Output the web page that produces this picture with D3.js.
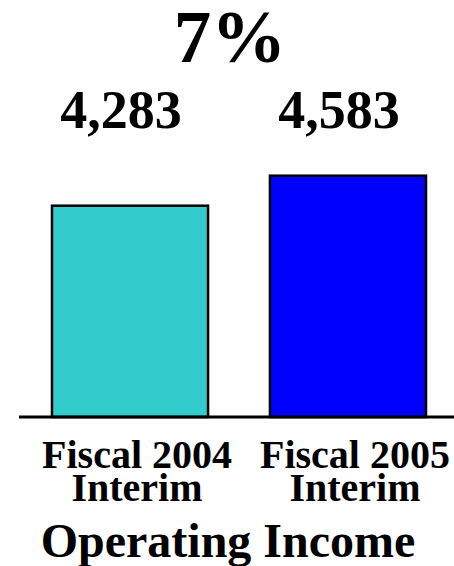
<!DOCTYPE html>
<html><head><meta charset="utf-8"><script src="https://cdn.jsdelivr.net/npm/d3@7"></script>
<style>
svg text, text { font-family: "Liberation Serif", "Tinos", "Times New Roman", serif !important; font-weight: bold !important; }
</style>
</head>
<body style="margin:0"><svg id="s" width="454" height="566"></svg>
<script>
const categories = ["Fiscal 2004 Interim", "Fiscal 2005 Interim"];
const categoryLines = [["Fiscal 2004", "Interim"], ["Fiscal 2005", "Interim"]];
const values = [4283, 4583];
const valueLabels = ["4,283", "4,583"];
const colors = ["#33CCCC", "#0000FF"];
const growthLabel = "7%";
const chartTitle = "Operating Income";

const s = d3.select("#s");
const baseY = 417;
const SERIF = "Liberation Serif";

const x = d3.scaleBand().domain(categories).range([19.3, 458.7]).paddingInner(0.284).paddingOuter(0.15);
const y = d3.scaleLinear().domain([2170, 4600]).range([baseY, 174]);

function serif(sel) {
  sel.attr("font-family", SERIF)
     .attr("font-weight", "bold")
     .attr("text-anchor", "middle")
     .attr("fill", "#000")
     .style("font-family", SERIF, "important")
     .style("font-weight", "bold", "important");
}

// bars
s.selectAll("rect.bar").data(values).join("rect")
  .attr("class", "bar")
  .attr("x", (d, i) => x(categories[i]))
  .attr("width", x.bandwidth())
  .attr("y", d => y(d))
  .attr("height", d => baseY - y(d))
  .attr("fill", (d, i) => colors[i])
  .attr("stroke", "#000")
  .attr("stroke-width", 2.5);

// baseline
s.append("line")
  .attr("x1", 19).attr("x2", 454)
  .attr("y1", baseY).attr("y2", baseY)
  .attr("stroke", "#000").attr("stroke-width", 3);

// value labels
s.selectAll("text.val").data(valueLabels).join("text")
  .attr("class", "val")
  .call(serif)
  .attr("x", (d, i) => x(categories[i]) + x.bandwidth() / 2 - 9)
  .attr("y", 128)
  .attr("font-size", 54)
  .text(d => d);

// growth label
s.append("text")
  .call(serif)
  .attr("x", 230).attr("y", 62)
  .attr("font-size", 75)
  .text(growthLabel);

// category labels
const catData = [];
categoryLines.forEach((lines, i) => lines.forEach((ln, j) => catData.push({ln, i, j})));
s.selectAll("text.cat").data(catData).join("text")
  .attr("class", "cat")
  .call(serif)
  .attr("x", d => x(categories[d.i]) + x.bandwidth() / 2 + 7)
  .attr("y", d => 468 + d.j * 33)
  .attr("font-size", 40)
  .text(d => d.ln);

// title
s.append("text")
  .call(serif)
  .attr("x", 228).attr("y", 557)
  .attr("font-size", 48)
  .text(chartTitle);
</script></body></html>
